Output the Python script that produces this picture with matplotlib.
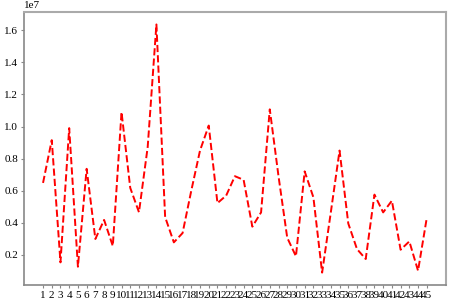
import numpy as np
import matplotlib
matplotlib.use("Agg")
import matplotlib.pyplot as plt

plt.rcParams['font.family'] = ['Liberation Serif', 'DejaVu Serif']

# x positions 1..45, values in units of 1e7
days = list(range(1, 46))
values = [0.648, 0.915, 0.152, 0.99, 0.125, 0.736, 0.298, 0.417, 0.254, 1.09,
          0.617, 0.465, 0.872, 1.637, 0.435, 0.277, 0.335, 0.60, 0.85, 1.006,
          0.522, 0.569, 0.69, 0.667, 0.375, 0.464, 1.107, 0.69, 0.306, 0.19,
          0.72, 0.558, 0.088, 0.465, 0.85, 0.395, 0.235, 0.173, 0.575, 0.464,
          0.537, 0.231, 0.283, 0.10, 0.429]

fig = plt.figure(figsize=(4.5, 3.01), dpi=100)
ax = fig.add_axes([0.053, 0.053, 0.938, 0.907])
ax.plot(days, np.array(values) * 1e7, 'r--', linewidth=1.4)

ax.set_xticks(days)
ax.set_xticklabels([str(d) for d in days])
ax.tick_params(axis='both', labelsize=8, length=2.5, width=0.8, color='#888888', pad=1.5)
ax.set_yticks(np.array([0.2, 0.4, 0.6, 0.8, 1.0, 1.2, 1.4, 1.6]) * 1e7)
ax.yaxis.get_offset_text().set_fontsize(8)

for side in ['left', 'bottom']:
    ax.spines[side].set_color('#888888')
    ax.spines[side].set_linewidth(1.2)
for side in ['top', 'right']:
    ax.spines[side].set_color('#aaaaaa')
    ax.spines[side].set_linewidth(1.5)

fig.savefig('out.png', dpi=100)
